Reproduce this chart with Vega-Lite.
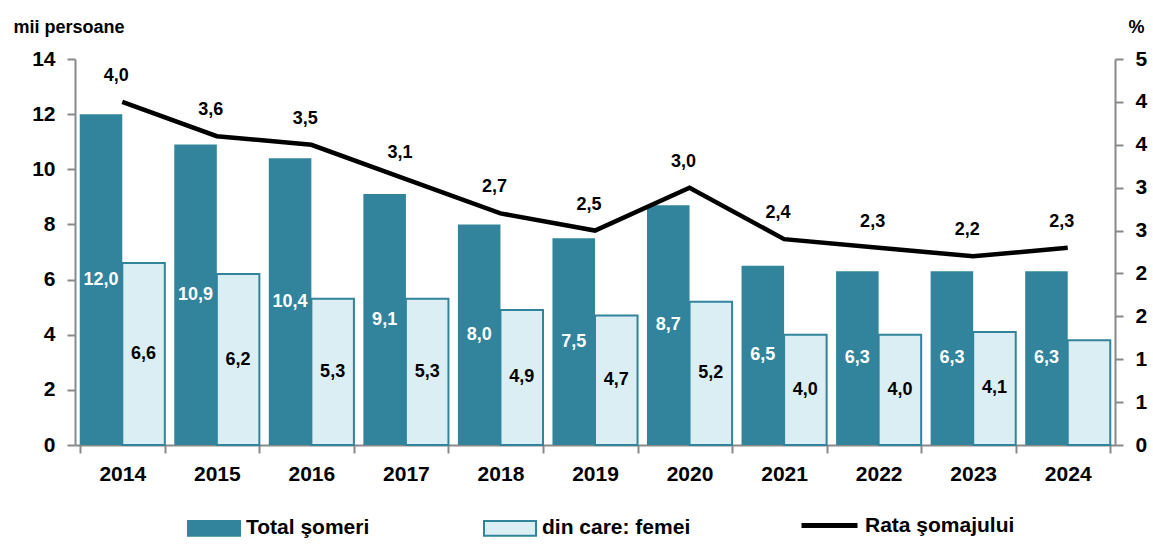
{
  "$schema": "https://vega.github.io/schema/vega-lite/v6.json",
  "width": 1040,
  "height": 386,
  "autosize": {"type": "none"},
  "padding": {"left": 75, "top": 59, "right": 38, "bottom": 100},
  "background": "white",
  "datasets": {
    "bars": [
      {"year": "2014", "series": "Total şomeri", "value": 12.0},
      {"year": "2015", "series": "Total şomeri", "value": 10.9},
      {"year": "2016", "series": "Total şomeri", "value": 10.4},
      {"year": "2017", "series": "Total şomeri", "value": 9.1},
      {"year": "2018", "series": "Total şomeri", "value": 8.0},
      {"year": "2019", "series": "Total şomeri", "value": 7.5},
      {"year": "2020", "series": "Total şomeri", "value": 8.7},
      {"year": "2021", "series": "Total şomeri", "value": 6.5},
      {"year": "2022", "series": "Total şomeri", "value": 6.3},
      {"year": "2023", "series": "Total şomeri", "value": 6.3},
      {"year": "2024", "series": "Total şomeri", "value": 6.3},
      {"year": "2014", "series": "din care: femei", "value": 6.6},
      {"year": "2015", "series": "din care: femei", "value": 6.2},
      {"year": "2016", "series": "din care: femei", "value": 5.3},
      {"year": "2017", "series": "din care: femei", "value": 5.3},
      {"year": "2018", "series": "din care: femei", "value": 4.9},
      {"year": "2019", "series": "din care: femei", "value": 4.7},
      {"year": "2020", "series": "din care: femei", "value": 5.2},
      {"year": "2021", "series": "din care: femei", "value": 4.0},
      {"year": "2022", "series": "din care: femei", "value": 4.0},
      {"year": "2023", "series": "din care: femei", "value": 4.1},
      {"year": "2024", "series": "din care: femei", "value": 3.8}
    ],
    "rate": [
      {"year": "2014", "rate": 4.0},
      {"year": "2015", "rate": 3.6},
      {"year": "2016", "rate": 3.5},
      {"year": "2017", "rate": 3.1},
      {"year": "2018", "rate": 2.7},
      {"year": "2019", "rate": 2.5},
      {"year": "2020", "rate": 3.0},
      {"year": "2021", "rate": 2.4},
      {"year": "2022", "rate": 2.3},
      {"year": "2023", "rate": 2.2},
      {"year": "2024", "rate": 2.3}
    ]
  },
  "config": {
    "locale": {"number": {"decimal": ",", "thousands": ".", "grouping": [3], "currency": ["", " lei"]}},
    "font": "Liberation Sans",
    "view": {"stroke": null},
    "axis": {
      "domainColor": "#898989", "domainWidth": 2,
      "tickColor": "#898989", "tickWidth": 2, "tickSize": 8,
      "grid": false, "labelOverlap": false,
      "labelFont": "Liberation Sans", "labelFontWeight": "bold", "labelFontSize": 21, "labelColor": "#000000",
      "titleFont": "Liberation Sans", "titleFontWeight": "bold", "titleFontSize": 18, "titleColor": "#000000"
    },
    "legend": {
      "labelFont": "Liberation Sans", "labelFontSize": 21, "labelFontWeight": "bold",
      "labelColor": "#000000", "labelOffset": 5, "labelLimit": 300, "symbolOpacity": 1
    }
  },
  "resolve": {"scale": {"y": "independent"}},
  "layer": [
    {
      "data": {"name": "bars"},
      "layer": [
        {
          "mark": {"type": "bar", "strokeWidth": 2},
          "encoding": {
            "x": {"field": "year", "type": "nominal", "scale": {"paddingInner": 0.1, "paddingOuter": 0.05},
                  "axis": {"title": null, "labelAngle": 0, "tickBand": "extent", "labelPadding": 10}},
            "xOffset": {"field": "series", "type": "nominal", "sort": ["Total şomeri", "din care: femei"]},
            "y": {"field": "value", "type": "quantitative", "scale": {"domain": [0, 14], "nice": false},
                  "axis": {"values": [0, 2, 4, 6, 8, 10, 12, 14], "title": "mii persoane", "titleAngle": 0,
                           "titleAlign": "left", "titleBaseline": "alphabetic", "titleX": -62, "titleY": -27,
                           "labelPadding": 12}},
            "fill": {"field": "series", "type": "nominal",
                      "scale": {"domain": ["Total şomeri", "din care: femei"],
                                "range": ["#31849b", "#dbeef4"]},
                      "legend": {
                        "orient": "none", "legendX": 112, "legendY": 442,
                        "direction": "horizontal", "columns": 2, "columnPadding": 110,
                        "title": null,
                        "symbolType": "M-1,-0.28H1V0.28H-1Z", "symbolSize": 2704,
                        "symbolStrokeColor": "#31849b", "symbolStrokeWidth": 2
                      }},
            "stroke": {"condition": {"test": "datum.series === 'din care: femei'", "value": "#31849b"}, "value": null}
          }
        },
        {
          "transform": [
            {"filter": "datum.series === 'Total şomeri'"},
            {"calculate": "datum.value / 2", "as": "mid"}
          ],
          "mark": {"type": "text", "color": "#ffffff", "fontSize": 18, "fontWeight": "bold", "font": "Liberation Sans", "baseline": "middle"},
          "encoding": {
            "x": {"field": "year", "type": "nominal"},
            "xOffset": {"field": "series", "type": "nominal", "sort": ["Total şomeri", "din care: femei"]},
            "y": {"field": "mid", "type": "quantitative", "scale": {"domain": [0, 14], "nice": false}},
            "text": {"field": "value", "type": "quantitative", "format": ".1f"}
          }
        },
        {
          "transform": [
            {"filter": "datum.series === 'din care: femei' && datum.year !== '2024'"},
            {"calculate": "datum.value / 2", "as": "mid"}
          ],
          "mark": {"type": "text", "color": "#000000", "fontSize": 18, "fontWeight": "bold", "font": "Liberation Sans", "baseline": "middle"},
          "encoding": {
            "x": {"field": "year", "type": "nominal"},
            "xOffset": {"field": "series", "type": "nominal", "sort": ["Total şomeri", "din care: femei"]},
            "y": {"field": "mid", "type": "quantitative", "scale": {"domain": [0, 14], "nice": false}},
            "text": {"field": "value", "type": "quantitative", "format": ".1f"}
          }
        }
      ]
    },
    {
      "data": {"name": "rate"},
      "layer": [
        {
          "mark": {"type": "line", "strokeWidth": 4.5, "strokeJoin": "miter"},
          "encoding": {
            "x": {"field": "year", "type": "nominal"},
            "y": {"field": "rate", "type": "quantitative", "scale": {"domain": [0, 4.5], "nice": false},
                  "axis": {"orient": "right", "values": [0, 0.5, 1, 1.5, 2, 2.5, 3, 3.5, 4, 4.5], "format": ".0f",
                           "labelOverlap": false,
                           "title": "%", "titleAngle": 0, "titleAlign": "left", "titleBaseline": "alphabetic",
                           "titleX": 13, "titleY": -27, "labelPadding": 12}},
            "stroke": {"datum": "Rata şomajului", "type": "nominal",
                       "scale": {"domain": ["Rata şomajului"], "range": ["#000000"]},
                       "legend": {
                         "orient": "none", "legendX": 724, "legendY": 436,
                         "title": null,
                         "symbolType": "M-1,0H1", "symbolSize": 3136,
                         "symbolStrokeColor": "#000000", "symbolStrokeWidth": 5
                       }}
          }
        },
        {
          "mark": {"type": "text", "color": "#000000", "fontSize": 18, "fontWeight": "bold", "font": "Liberation Sans", "baseline": "middle", "dy": -26, "dx": -6},
          "encoding": {
            "x": {"field": "year", "type": "nominal"},
            "y": {"field": "rate", "type": "quantitative", "scale": {"domain": [0, 4.5], "nice": false}},
            "text": {"field": "rate", "type": "quantitative", "format": ".1f"}
          }
        }
      ]
    }
  ]
}
